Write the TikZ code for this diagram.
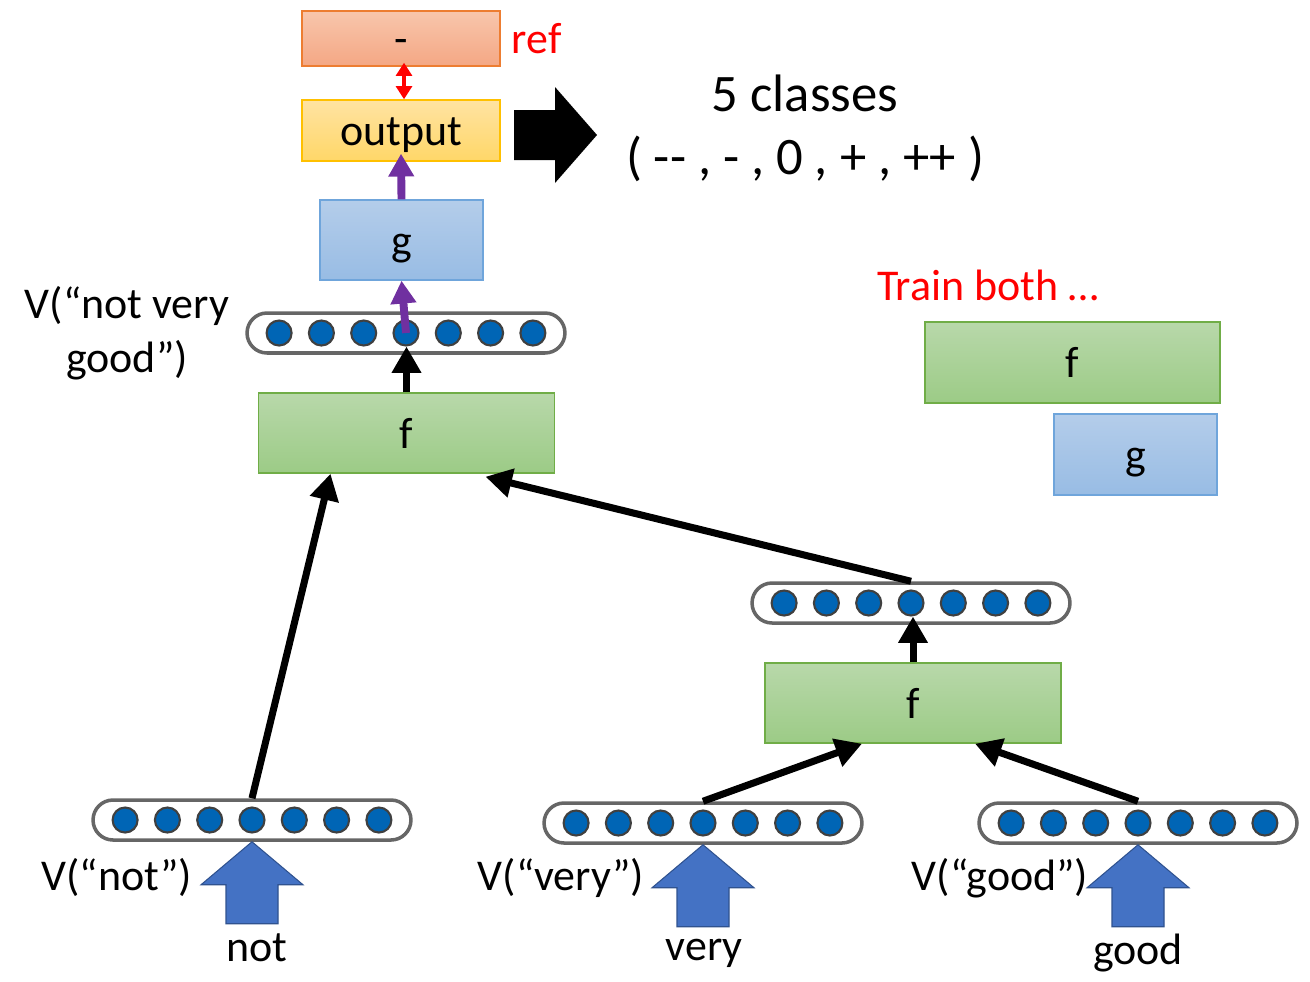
\documentclass[tikz,border=0pt]{standalone}
\usepackage{fontspec}
\setmainfont{Carlito}
\usetikzlibrary{arrows.meta,calc,positioning}

\definecolor{refline}{HTML}{ED7D31}
\definecolor{reftop}{HTML}{F8C6AC}
\definecolor{refbot}{HTML}{F4A784}
\definecolor{outline}{HTML}{FFC000}
\definecolor{outtop}{HTML}{FFE3A2}
\definecolor{outbot}{HTML}{FFD768}
\definecolor{gline}{HTML}{6FA5DB}
\definecolor{gtop}{HTML}{B4CDEA}
\definecolor{gbot}{HTML}{98BCE4}
\definecolor{fline}{HTML}{70AD47}
\definecolor{ftop}{HTML}{B8D8AA}
\definecolor{fbot}{HTML}{9CCB86}
\definecolor{unitblue}{HTML}{0065B5}
\definecolor{wordblue}{HTML}{4472C4}
\definecolor{wordline}{HTML}{2F528F}
\definecolor{gpurple}{HTML}{7030A0}

\begin{document}
\begin{tikzpicture}[x=0.02cm, y=-0.02cm,
    every node/.style={font=\fontsize{25}{31}\selectfont},
    boxtext/.style={text height=0.75cm, text depth=0.15cm, inner sep=0pt},
    refbox/.style={boxtext, draw=refline, line width=0.8pt, top color=reftop, bottom color=refbot,
      minimum width=3.96cm, minimum height=1.1cm},
    outbox/.style={boxtext, draw=outline, line width=0.8pt, top color=outtop, bottom color=outbot,
      minimum width=3.96cm, minimum height=1.22cm},
    gbox/.style={boxtext, draw=gline, line width=0.8pt, top color=gtop, bottom color=gbot,
      minimum width=3.26cm, minimum height=1.6cm},
    fbox/.style={boxtext, draw=fline, line width=0.8pt, top color=ftop, bottom color=fbot,
      minimum width=5.92cm, minimum height=1.6cm},
    vecbox/.style={draw=black!60, line width=2pt, fill=white, rounded corners=0.4cm,
      minimum width=6.36cm, minimum height=0.8cm, inner sep=0pt},
    unit/.style={circle, draw=black!75, line width=1.2pt, fill=unitblue,
      minimum size=0.5cm, inner sep=0pt},
    redtext/.style={text=red},
    link/.style={line width=4pt, -{Triangle[length=15pt,width=16pt]}},
    glink/.style={draw=gpurple, line width=4.5pt, -{Triangle[length=13pt,width=14pt,fill=gpurple]}},
    reflink/.style={draw=red, line width=2.2pt,
      {Triangle[length=7.5pt,width=9pt,fill=red]}-{Triangle[length=7.5pt,width=9pt,fill=red]}},
    wordarrow/.style={fill=wordblue, draw=wordline, line width=0.6pt}
  ]
  \useasboundingbox (0,0) rectangle (1310,981);

  % top: ref, output, g
  \node[refbox] (ref) at (401,38.5) {-};
  \node[redtext, right=0.1cm of ref] (reflabel) {ref};
  \node[outbox] (output) at (401,130.5) {output};
  \node[gbox] (g) at (401.5,240) {g};
  \draw[reflink] ($(ref.south)+(3,-4)$) -- ($(output.north)+(3,0)$);
  \draw[glink] (g.north) -- ($(output.south)+(0,-8)$);

  % result classes
  \fill (514,110) -- (555,110) -- (555,87) -- (597,135) -- (555,183) -- (555,160) -- (514,160) -- cycle;
  \node[font=\fontsize{30}{36}\selectfont, align=center] (classes) at (805,128)
    {5 classes\\( -{}- , - , 0 , + , ++ )};

  % trained parts
  \node[redtext] (train) at (988,285) {Train both …};
  \node[fbox, minimum width=5.9cm, minimum height=1.62cm] (fR) at (1072.5,362.5) {f};
  \node[gbox, minimum height=1.62cm] (gR) at (1135.5,454.5) {g};

  % word vectors
  \foreach \v/\x/\y in {vtop/406/333, vmid/911/603, vnot/252/820, vvery/703/823, vgood/1138/823} {
    \node[vecbox] (\v) at (\x,\y) {};
    \foreach \i in {1,...,7}
      \node[unit] (\v-\i) at ($(\v)+({(\i-4)*42.3},0)$) {};
  }

  % composition boxes
  \node[fbox] (f1) at (406.5,433) {f};
  \node[fbox] (f2) at (913,703) {f};

  \draw[link] (f1.north) -- (f1.north |- vtop-4.south);
  \draw[glink] (vtop-4.center) -- (g.south);
  \draw[link] (f2.north) -- (f2.north |- vmid-4.south);
  \draw[link] (vnot.north) -- ($(f1.south)+(-76,0)$);
  \draw[link] (vmid.north) -- ($(f1.south)+(79,3)$);
  \draw[link] (vvery.north) -- ($(f2.south)+(-51,0)$);
  \draw[link] (vgood.north) -- ($(f2.south)+(62,0)$);

  % input words
  \foreach \v in {vnot, vvery, vgood}
    \draw[wordarrow] (\v.south) -- ++(-51,43) -- ++(25,0) -- ++(0,39) -- ++(52,0)
      -- ++(0,-39) -- ++(25,0) -- cycle;

  \node (lnotvery) at (127,333) [align=center] {V(“not very\\good”)};
  \node (lnot) at (117,877) {V(“not”)};
  \node (lvery) at (561,878) {V(“very”)};
  \node (lgood) at (1000,878) {V(“good”)};
  \node (wnot) at (257,948) {not};
  \node (wvery) at (704,953) {very};
  \node (wgood) at (1138,953) {good};

\end{tikzpicture}
\end{document}
